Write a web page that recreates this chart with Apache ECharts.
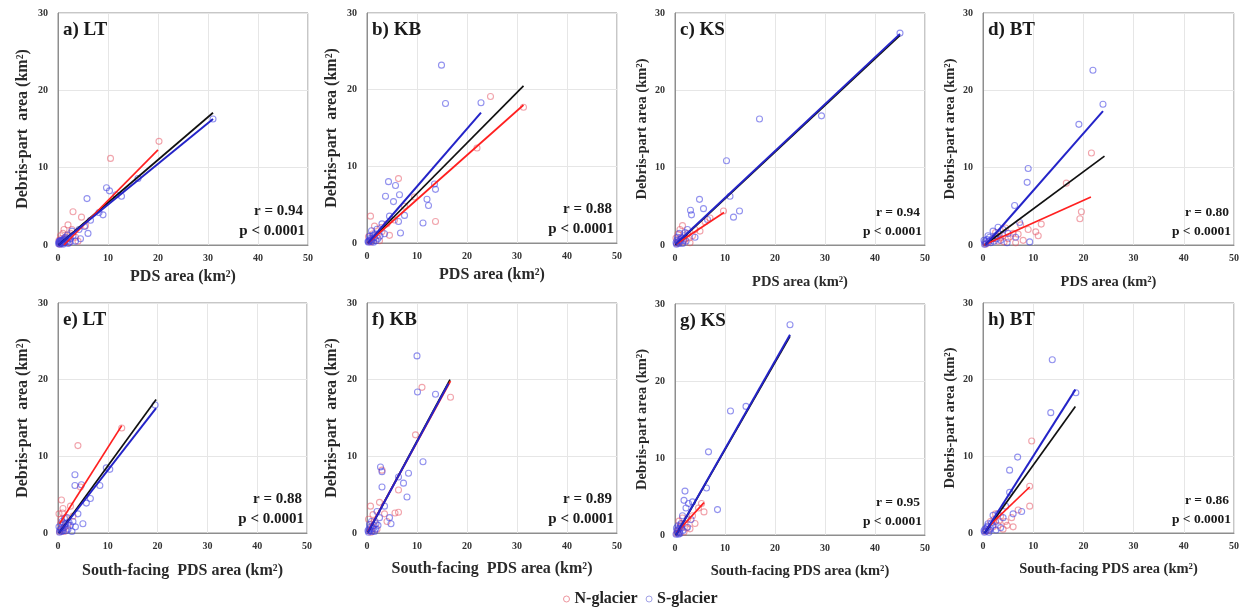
<!DOCTYPE html>
<html><head><meta charset="utf-8">
<script src="https://cdn.jsdelivr.net/npm/echarts@6/dist/echarts.min.js"></script>
<style>html,body{margin:0;padding:0;background:#fff}#c{width:1249px;height:611px}</style>
</head><body><div id="c"></div>
<script>
// ---- data ----
const aN = [[20.2,13.4],[10.5,11.2],[3.0,4.3],[4.7,3.6],[1.2,2.0],[2.0,2.6],[0.5,1.2],[0.8,0.4],[1.5,0.8],[2.5,1.5],[3.5,1.0],[0.3,0.2],[1.0,1.5],[5.5,2.5],[4.0,0.5],[0.2,0.6],[2.2,0.3],[0.6,0.8],[1.8,1.2],[2.8,2.0],[0.4,0.1]];
const aS = [[31,16.3],[9.7,7.4],[10.3,7.0],[5.8,6.0],[12.7,6.3],[11.6,6.5],[9.0,3.9],[8.2,4.2],[16,8.6],[6.0,1.5],[5.3,2.4],[4.2,2.0],[3.0,1.2],[2.5,0.8],[1.8,0.5],[1.2,0.3],[0.6,0.2],[0.3,0.1],[0.9,0.6],[1.5,1.0],[2.0,0.2],[3.5,0.5],[4.5,0.8],[0.2,0.4],[1.0,0.1],[2.8,1.8],[6.5,3.2],[0.4,0.3],[0.7,0.5],[1.1,0.7],[1.4,0.4],[0.5,0.6],[0.8,0.2],[1.6,0.7],[2.2,0.9],[0.3,0.5],[1.9,1.3],[2.4,0.4],[0.1,0.2],[1.3,0.9]];
const aFitN = [[1.2,0],[20,12.3]];
const aFitS = [[0.1,0],[31,16.3]];
const aFitAll = [[0.1,0],[31,17.1]];

const bN = [[24.7,19.1],[31.3,17.7],[22,12.4],[13.7,2.8],[6.3,8.4],[0.7,3.5],[5.5,3.0],[4.0,2.5],[3.0,1.5],[2.0,1.0],[1.0,0.5],[0.5,0.2],[1.5,2.2],[7.5,4.8],[9.5,6.0],[2.5,0.3],[4.5,1.0],[0.3,0.8],[1.2,1.2],[2.8,2.0],[0.8,0.1]];
const bS = [[14.9,23.2],[15.7,18.2],[22.8,18.3],[13.7,7.0],[13.5,7.7],[12,5.7],[12.3,4.9],[11.2,2.6],[4.3,8.0],[5.7,7.5],[3.7,6.1],[6.5,6.3],[5.3,5.4],[6.3,2.8],[6.7,1.3],[4.5,3.5],[3.0,2.5],[2.0,1.8],[1.2,1.0],[0.6,0.4],[0.3,0.1],[1.8,0.3],[2.6,0.9],[0.9,1.6],[3.5,1.2],[7.5,3.6],[0.4,0.3],[0.7,0.6],[1.0,0.2],[1.4,0.7],[0.5,0.9],[0.2,0.2],[1.6,1.2],[2.2,0.6],[0.9,0.4],[1.3,0.1]];
const bFitN = [[0.2,0],[31.3,18.0]];
const bFitS = [[0.2,0],[22.8,17.0]];
const bFitAll = [[0.2,0],[31.3,20.5]];

const cN = [[9.7,4.4],[7.0,3.5],[6.0,3.0],[4.0,2.0],[3.5,1.2],[2.5,1.5],[1.5,2.5],[1.0,2.0],[2.0,0.8],[0.8,0.5],[0.4,0.2],[3.0,0.3],[5.0,1.8],[1.2,1.0],[0.2,0.9],[0.6,1.4],[1.6,0.4],[2.8,0.9]];
const cS = [[45,27.4],[29.3,16.7],[16.9,16.3],[10.3,10.9],[4.9,5.9],[5.7,4.7],[3.1,4.5],[3.3,3.9],[12.9,4.4],[11.7,3.6],[11,6.3],[6.5,3.3],[2.5,2.0],[1.8,1.2],[1.2,0.8],[0.6,0.4],[0.3,0.1],[2.2,0.5],[0.9,1.5],[4.0,1.0],[1.5,0.2],[0.4,0.6],[0.8,0.2],[1.0,0.5],[1.4,0.9],[0.2,0.3],[0.5,1.0],[2.0,1.6],[1.7,0.6]];
const cFitN = [[0.2,0.1],[9.8,4.2]];
const cFitS = [[0.1,0.1],[45,27.3]];
const cFitAll = [[0.1,0],[45,27.1]];

const dN = [[21.6,11.9],[19.6,4.3],[19.3,3.4],[16.6,8.0],[10.5,1.7],[11,1.2],[11.6,2.7],[9.0,2.0],[7.5,2.6],[6.0,1.5],[5.0,0.8],[4.0,1.2],[3.0,0.5],[2.0,0.8],[1.0,0.3],[0.5,0.1],[8.0,0.6],[6.5,0.3],[4.5,2.2],[2.5,1.6],[3.5,0.9],[5.5,1.1],[4.2,0.4],[7.0,1.4],[2.8,1.1]];
const dS = [[21.9,22.6],[23.9,18.2],[19.1,15.6],[9,9.9],[8.8,8.1],[6.3,5.1],[9.3,0.4],[7.3,2.9],[6.5,1.0],[5.0,1.5],[4.0,2.0],[3.0,2.3],[2.5,1.2],[1.8,0.8],[1.2,0.5],[0.6,0.2],[0.3,0.1],[3.5,0.6],[2.0,1.8],[4.8,0.3],[1.0,1.2],[0.4,0.4],[0.8,0.7],[1.5,0.3],[2.2,0.5],[1.3,1.0],[0.2,0.6],[2.7,0.8],[3.2,1.4]];
const dFitN = [[0.2,0],[21.5,6.2]];
const dFitS = [[0.5,0],[23.9,17.3]];
const dFitAll = [[0.3,0],[24.2,11.5]];

const eN = [[4.0,11.4],[12.8,13.7],[0.7,4.3],[1.0,3.2],[2.5,3.5],[4.5,6.0],[1.5,2.0],[0.5,1.2],[2.0,1.0],[0.8,0.5],[0.3,0.2],[3.0,2.2],[1.2,0.2],[0.2,2.5],[0.6,1.8],[1.4,0.8],[0.9,2.6]];
const eS = [[19.5,16.7],[3.4,7.6],[4.7,6.3],[3.4,6.2],[9.7,8.5],[10.4,8.3],[8.4,6.2],[5.7,3.9],[6.5,4.5],[4.0,2.5],[3.0,1.5],[2.5,1.0],[2.0,0.5],[1.5,1.2],[1.0,0.3],[0.6,0.6],[0.3,0.1],[1.8,2.0],[3.5,0.8],[2.8,0.2],[0.8,1.5],[5.0,1.2],[0.4,0.4],[0.7,0.2],[1.2,0.7],[0.2,0.8],[1.6,0.3],[2.2,1.4],[0.9,1.0],[1.3,1.9]];
const eFitN = [[0.3,1.2],[12.8,14.0]];
const eFitS = [[0.2,0],[19.7,16.3]];
const eFitAll = [[0.2,0],[19.7,17.4]];

const fN = [[11,19],[16.7,17.7],[9.7,12.8],[6.3,5.6],[6.3,2.7],[5.6,2.6],[0.7,3.5],[3.5,2.5],[2.5,4.0],[1.5,1.5],[1.0,0.8],[0.5,0.3],[2.0,0.5],[4.0,1.5],[0.3,1.8],[3.0,8.2],[1.2,2.4],[0.8,0.1]];
const fS = [[10,23.1],[10.1,18.4],[13.7,18.1],[11.2,9.3],[2.7,8.6],[3,8],[3,6],[6.3,7.3],[8.3,7.8],[7.3,6.5],[8,4.7],[4.5,2.0],[3.5,3.5],[2.5,2.0],[1.8,1.2],[1.2,0.6],[0.6,0.3],[0.3,0.1],[2.0,2.8],[1.5,0.2],[4.8,1.2],[0.9,1.5],[0.4,0.5],[0.7,0.8],[1.0,0.2],[1.4,1.0],[0.2,0.3],[0.5,1.1],[1.7,0.5],[2.2,1.0]];
const fFitN = [[0.2,0.2],[16.7,19.8]];
const fFitS = [[0.2,0.1],[16.3,19.5]];
const fFitAll = [[0.2,0.1],[16.6,20.0]];

const gN = [[5.3,4.1],[4.7,3.5],[5.8,3.0],[3.5,2.5],[2.5,2.0],[2.0,1.5],[1.5,2.2],[1.0,1.0],[0.5,0.5],[0.3,0.2],[3.0,0.8],[1.8,0.4],[0.8,1.8],[4.0,1.5],[1.2,1.4],[2.3,0.9]];
const gS = [[23,27.3],[14.2,16.7],[11.1,16.1],[6.7,10.8],[6.3,6.1],[2,5.7],[8.5,3.3],[2.7,4.1],[1.8,4.5],[3.5,4.3],[2.2,3.5],[1.5,2.5],[1.2,1.5],[0.8,0.8],[0.5,0.3],[0.2,0.1],[2.5,1.0],[1.0,0.2],[3.2,2.0],[0.6,1.2],[0.4,0.6],[0.9,0.4],[1.3,0.9],[0.3,0.9],[1.6,0.6],[0.7,0.1],[1.1,1.2]];
const gFitN = [[0.3,0.3],[5.8,4.2]];
const gFitS = [[0.2,0],[23,26]];
const gFitAll = [[0.2,0],[23,25.8]];

const hN = [[9.7,12],[9.3,6.1],[9.3,3.5],[5.7,2],[7.0,3.0],[4.5,1.5],[3.5,2.2],[3.0,1.0],[2.0,0.8],[1.5,1.5],[1.0,0.4],[0.5,0.2],[4.0,0.5],[6.0,0.8],[2.5,2.5],[3.2,1.6],[2.2,1.8],[4.8,1.0]];
const hS = [[13.8,22.6],[18.5,18.3],[13.5,15.7],[6.9,9.9],[5.3,8.2],[5.3,5.3],[7.7,2.8],[6.0,2.5],[4.0,2.0],[3.0,2.5],[2.5,1.5],[2.0,1.0],[1.5,0.6],[1.0,1.2],[0.6,0.3],[0.3,0.1],[3.5,0.7],[2.0,2.3],[4.5,3.5],[1.2,0.1],[0.4,0.5],[0.8,0.7],[1.3,0.4],[0.2,0.3],[1.7,1.3],[2.6,0.4],[0.9,0.9]];
const hFitN = [[1.0,0.8],[9.3,6.0]];
const hFitS = [[0.3,0],[18.4,18.7]];
const hFitAll = [[0.3,0],[18.4,16.5]];

const panelTitles = ['a) LT','b) KB','c) KS','d) BT','e) LT','f) KB','g) KS','h) BT'];
const rValues = ['0.94','0.88','0.94','0.80','0.88','0.89','0.95','0.86'];
const pText = 'p < 0.0001';
const xTicks = [0,10,20,30,40,50];
const yTicks = [0,10,20,30];

// ---- layout ----
const serif = "'Liberation Serif','Times New Roman',serif";
const layout = [
  {left:58, top:13, width:250, height:232, small:false, xName:'PDS area (km²)', yName:'Debris-part  area (km²)', xGap:24},
  {left:367,top:13, width:250, height:230, small:false, xName:'PDS area (km²)', yName:'Debris-part  area (km²)', xGap:24},
  {left:675,top:13, width:250, height:232, small:true,  xName:'PDS area (km²)', yName:'Debris-part area (km²)', xGap:30},
  {left:983,top:13, width:251, height:232, small:true,  xName:'PDS area (km²)', yName:'Debris-part area (km²)', xGap:30},
  {left:58, top:303,width:249, height:230, small:false, xName:'South-facing  PDS area (km²)', yName:'Debris-part  area (km²)', xGap:30},
  {left:367,top:303,width:250, height:230, small:false, xName:'South-facing  PDS area (km²)', yName:'Debris-part  area (km²)', xGap:28},
  {left:675,top:304,width:250, height:231, small:true,  xName:'South-facing PDS area (km²)', yName:'Debris-part area (km²)', xGap:29},
  {left:983,top:303,width:251, height:230, small:true,  xName:'South-facing PDS area (km²)', yName:'Debris-part area (km²)', xGap:29}
];
const dataN = [aN,bN,cN,dN,eN,fN,gN,hN];
const dataS = [aS,bS,cS,dS,eS,fS,gS,hS];
const fitN = [aFitN,bFitN,cFitN,dFitN,eFitN,fFitN,gFitN,hFitN];
const fitS = [aFitS,bFitS,cFitS,dFitS,eFitS,fFitS,gFitS,hFitS];
const fitAll = [aFitAll,bFitAll,cFitAll,dFitAll,eFitAll,fFitAll,gFitAll,hFitAll];

const colN = 'rgba(228,80,95,0.65)';
const colS = 'rgba(60,60,225,0.7)';
const grids=[], xAxes=[], yAxes=[], series=[], graphics=[];

layout.forEach((L,i)=>{
  grids.push({left:L.left, top:L.top, width:L.width, height:L.height, show:true, borderColor:'#8e8e8e', borderWidth:1, containLabel:false});
  const nameFs = L.small ? 14.5 : 16;
  xAxes.push({gridIndex:i, type:'value', min:xTicks[0], max:xTicks[xTicks.length-1], interval:10,
    name:L.xName, nameLocation:'middle', nameGap:L.xGap,
    nameTextStyle:{fontFamily:serif, fontWeight:'bold', fontSize:nameFs, color:'#2a2a2a'},
    axisLine:{show:true, lineStyle:{color:'#8e8e8e'}}, axisTick:{show:false},
    axisLabel:{fontFamily:serif, fontWeight:'bold', fontSize:10, color:'#333', margin:8},
    splitLine:{show:true, lineStyle:{color:'#e6e6e6'}}});
  yAxes.push({gridIndex:i, type:'value', min:yTicks[0], max:yTicks[yTicks.length-1], interval:10,
    name:L.yName, nameLocation:'middle', nameGap:L.small ? 25 : 27, nameRotate:90,
    nameTextStyle:{fontFamily:serif, fontWeight:'bold', fontSize:nameFs, color:'#2a2a2a'},
    axisLine:{show:true, lineStyle:{color:'#8e8e8e'}}, axisTick:{show:false},
    axisLabel:{fontFamily:serif, fontWeight:'bold', fontSize:10, color:'#333', margin:10},
    splitLine:{show:true, lineStyle:{color:'#e6e6e6'}}});
  series.push({type:'scatter', name:'N-glacier', xAxisIndex:i, yAxisIndex:i, data:dataN[i], symbol:'circle', symbolSize:6,
    itemStyle:{color:'rgba(255,255,255,0)', borderColor:colN, borderWidth:1.1}, z:2});
  series.push({type:'scatter', name:'S-glacier', xAxisIndex:i, yAxisIndex:i, data:dataS[i], symbol:'circle', symbolSize:6,
    itemStyle:{color:'rgba(255,255,255,0)', borderColor:colS, borderWidth:1.1}, z:2});
  series.push({type:'line', name:'fit-all', xAxisIndex:i, yAxisIndex:i, data:fitAll[i], symbol:'none', silent:true,
    lineStyle:{color:'#111', width:1.7}, z:3});
  series.push({type:'line', name:'fit-N', xAxisIndex:i, yAxisIndex:i, data:fitN[i], symbol:'none', silent:true,
    lineStyle:{color:'#ff2020', width:1.7}, z:4});
  series.push({type:'line', name:'fit-S', xAxisIndex:i, yAxisIndex:i, data:fitS[i], symbol:'none', silent:true,
    lineStyle:{color:'#2424c8', width:2}, z:5});
  graphics.push({type:'text', z:100, x:L.left+5, y:L.top+8, style:{text:panelTitles[i], font:`bold 19px ${serif}`, fill:'#1a1a1a', align:'left', verticalAlign:'top'}});
  const fs = L.small ? 13.5 : 15;
  graphics.push({type:'text', z:100, x:L.left+L.width-5, y:L.top+L.height-(L.small?39:41),
    style:{text:'r = '+rValues[i], font:`bold ${fs}px ${serif}`, fill:'#1a1a1a', align:'right', verticalAlign:'top'}});
  graphics.push({type:'text', z:100, x:L.left+L.width-3, y:L.top+L.height-(L.small?20:21),
    style:{text:pText, font:`bold ${fs}px ${serif}`, fill:'#1a1a1a', align:'right', verticalAlign:'top'}});
});

const chart = echarts.init(document.getElementById('c'));
chart.setOption({
  animation:false,
  grid:grids, xAxis:xAxes, yAxis:yAxes, series:series, graphic:graphics,
  legend:{top:586, left:558, itemWidth:6, itemHeight:6, itemGap:8,
    textStyle:{fontFamily:serif, fontWeight:'bold', fontSize:16, color:'#222'},
    data:[{name:'N-glacier', icon:'circle', itemStyle:{color:'rgba(255,255,255,0)', borderColor:'#e87a86', borderWidth:1}},
          {name:'S-glacier', icon:'circle', itemStyle:{color:'rgba(255,255,255,0)', borderColor:'#8a8ae0', borderWidth:1}}]}
});
</script></body></html>
